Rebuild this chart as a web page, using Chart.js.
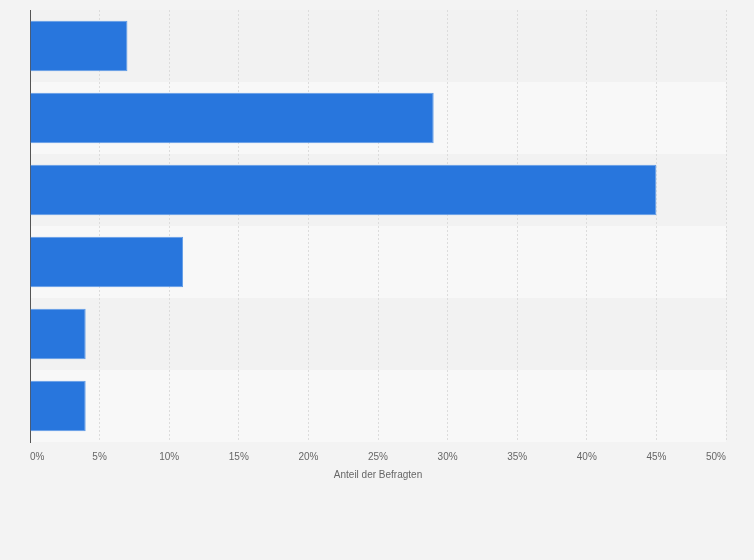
<!DOCTYPE html>
<html>
<head>
<meta charset="utf-8">
<script src="https://cdn.jsdelivr.net/npm/chart.js@4/dist/chart.umd.min.js"></script>
<style>
  html, body { margin: 0; padding: 0; background: #f3f3f3; }
  #wrap { width: 754px; height: 560px; }
</style>
</head>
<body>
<div id="wrap"><canvas id="myChart"></canvas></div>
<script>
// category names are not shown in the picture
const categories = ['1', '2', '3', '4', '5', '6'];
const shares = [7, 29, 45, 11, 4, 4];
const xTicks = [0, 5, 10, 15, 20, 25, 30, 35, 40, 45, 50];
const axisTitle = 'Anteil der Befragten';

// page background + alternating row bands
const bands = {
    id: 'bands',
    beforeDraw(chart) {
        const ctx = chart.ctx;
        const area = chart.chartArea;
        const y = chart.scales.y;
        ctx.save();
        ctx.fillStyle = '#f3f3f3';
        ctx.fillRect(0, 0, chart.width, chart.height);
        const step = (area.bottom - area.top) / categories.length;
        categories.forEach((c, i) => {
            const mid = y.getPixelForValue(i);
            ctx.fillStyle = i % 2 === 0 ? '#f2f2f2' : '#f8f8f8';
            ctx.fillRect(area.left, mid - step / 2, area.right - area.left, step);
        });
        ctx.restore();
    }
};

Chart.defaults.font.family = '"Liberation Sans", Arial, sans-serif';
Chart.defaults.color = '#666';

var ctx = document.getElementById('myChart');
var chart = new Chart(ctx, {
    type: 'bar',
    data: {
        labels: categories,
        datasets: [{
            data: shares,
            backgroundColor: '#2876dd',
            borderColor: '#5f9be6',
            borderWidth: 1,
            categoryPercentage: 0.7,
            barPercentage: 1
        }]
    },
    options: {
        indexAxis: 'y',
        responsive: true,
        maintainAspectRatio: false,
        animation: false,
        layout: { padding: { left: 30, right: 28, top: 10, bottom: 75 } },
        plugins: {
            legend: { display: false },
            tooltip: { enabled: false }
        },
        scales: {
            x: {
                min: 0,
                max: 50,
                afterBuildTicks(scale) {
                    scale.ticks = xTicks.map(v => ({ value: v }));
                },
                ticks: {
                    align: 'inner',
                    padding: 9,
                    font: { size: 10 },
                    color: '#666',
                    callback: v => v + '%'
                },
                grid: { color: '#dcdcdc', drawTicks: false },
                border: { display: false, dash: [2, 2] },
                title: {
                    display: true,
                    text: axisTitle,
                    font: { size: 10 },
                    color: '#666',
                    padding: { top: -3, bottom: 4 }
                }
            },
            y: {
                ticks: { display: false },
                grid: { display: false, drawTicks: false },
                border: { display: true, color: '#555', width: 1 },
                afterFit(scale) { scale.width = 0; }
            }
        }
    },
    plugins: [bands]
});
</script>
</body>
</html>
